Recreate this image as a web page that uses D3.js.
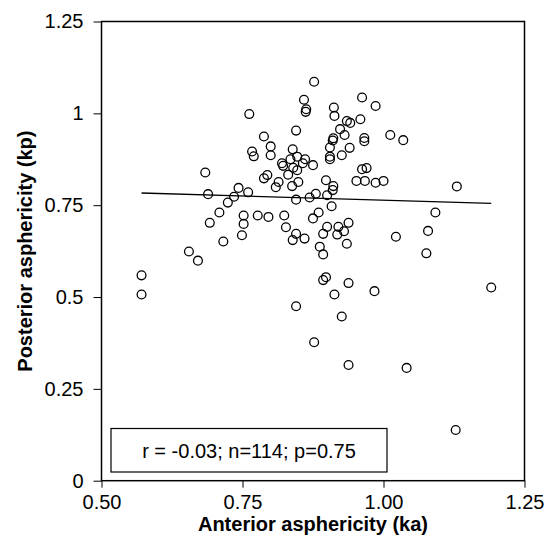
<!DOCTYPE html>
<html>
<head>
<meta charset="utf-8">
<script src="https://cdn.jsdelivr.net/npm/d3@7"></script>
<style>
  body { margin: 0; background: #fff; }
  text { font-family: "Liberation Sans", Arial, sans-serif; }
</style>
</head>
<body>
<div id="chart"></div>
<script>
// anterior (ka) vs posterior (kp) asphericity
const anterior = [
  0.571, 0.571, 0.655, 0.671, 0.684, 0.689, 0.692, 0.709, 0.716, 0.724,
  0.735, 0.743, 0.749, 0.752, 0.752, 0.760, 0.762, 0.767, 0.770, 0.777,
  0.877, 0.859, 0.863, 0.862, 0.912, 0.913, 0.962, 0.986, 0.959, 0.935,
  0.941, 0.923, 0.931, 0.845, 0.788, 0.911, 0.910, 0.966, 0.966, 1.012,
  1.035, 0.800, 0.800, 0.839, 0.905, 0.940, 0.926, 0.905, 0.905, 0.835,
  0.847, 0.861, 0.857, 0.820, 0.822, 0.840, 0.875, 0.847, 0.831, 0.794,
  0.788, 0.962, 0.970, 0.814, 0.809, 0.838, 0.849, 0.898, 0.911, 0.910,
  0.952, 0.967, 0.986, 1.000, 0.845, 0.869, 0.880, 0.900, 0.908, 0.885,
  0.875, 0.796, 0.824, 0.827, 0.845, 0.839, 0.860, 0.893, 0.900, 0.920,
  0.930, 0.918, 0.938, 0.935, 0.887, 0.893, 1.022, 0.898, 0.893, 0.938,
  0.913, 0.984, 0.845, 0.926, 0.877, 0.938, 1.041, 1.128, 1.130, 1.092,
  1.079, 1.076, 1.191
];
const posterior = [
  0.559, 0.507, 0.624, 0.599, 0.839, 0.780, 0.702, 0.730, 0.651, 0.757,
  0.773, 0.797, 0.668, 0.722, 0.699, 0.785, 0.998, 0.896, 0.883, 0.722,
  1.086, 1.037, 1.011, 1.004, 1.016, 0.993, 1.043, 1.020, 0.984, 0.979,
  0.974, 0.957, 0.941, 0.953, 0.937, 0.932, 0.926, 0.933, 0.924, 0.941,
  0.927, 0.910, 0.886, 0.902, 0.907, 0.906, 0.886, 0.882, 0.875, 0.875,
  0.882, 0.875, 0.864, 0.864, 0.857, 0.852, 0.859, 0.845, 0.833, 0.832,
  0.823, 0.848, 0.851, 0.813, 0.799, 0.802, 0.813, 0.818, 0.802, 0.791,
  0.816, 0.816, 0.811, 0.816, 0.765, 0.771, 0.781, 0.777, 0.747, 0.730,
  0.714, 0.718, 0.722, 0.690, 0.672, 0.655, 0.659, 0.672, 0.691, 0.691,
  0.679, 0.670, 0.702, 0.645, 0.637, 0.616, 0.664, 0.554, 0.546, 0.538,
  0.507, 0.516, 0.475, 0.447, 0.377, 0.315, 0.307, 0.138, 0.801, 0.730,
  0.680, 0.619, 0.526
];
// fitted regression line ends
const fitX = [0.571, 1.191];
const fitY = [0.783, 0.755];

const xTicks = [0.5, 0.75, 1.0, 1.25];
const yTicks = [0, 0.25, 0.5, 0.75, 1, 1.25];
const xTitle = "Anterior asphericity (ka)";
const yTitle = "Posterior asphericity (kp)";
const statsText = "r = -0.03; n=114; p=0.75";

const W = 544, H = 548;
const margin = { top: 21.5, right: 19.5, bottom: 67.3, left: 101.5 };
const width = W - margin.left - margin.right;
const height = H - margin.top - margin.bottom;

const svg = d3.select("#chart")
  .append("svg")
  .attr("width", W)
  .attr("height", H);

const g = svg.append("g")
  .attr("transform", `translate(${margin.left},${margin.top})`);

const x = d3.scaleLinear().domain([0.5, 1.25]).range([0, width]);
const y = d3.scaleLinear().domain([0, 1.25]).range([height, 0]);

// axes
const xAxis = d3.axisBottom(x)
  .tickValues(xTicks)
  .tickFormat(d3.format(".2f"))
  .tickSize(7)
  .tickPadding(7);
const yAxis = d3.axisLeft(y)
  .tickValues(yTicks)
  .tickFormat(d => String(d))
  .tickSize(8)
  .tickPadding(10);

const gx = g.append("g")
  .attr("transform", `translate(0,${height})`)
  .call(xAxis);
const gy = g.append("g").call(yAxis);

[gx, gy].forEach(a => {
  a.select(".domain").remove();
  a.selectAll(".tick line").attr("stroke", "#000").attr("stroke-width", 1);
  a.selectAll(".tick text")
    .attr("fill", "#000")
    .style("font-size", "20px");
});

// frame
g.append("rect")
  .attr("x", 0)
  .attr("y", 0)
  .attr("width", width)
  .attr("height", height)
  .attr("fill", "none")
  .attr("stroke", "#000")
  .attr("stroke-width", 1.5);

// regression line
g.append("line")
  .attr("x1", x(fitX[0]))
  .attr("y1", y(fitY[0]))
  .attr("x2", x(fitX[1]))
  .attr("y2", y(fitY[1]))
  .attr("stroke", "#000")
  .attr("stroke-width", 1.4);

// points
const points = anterior.map((a, i) => ({ x: a, y: posterior[i] }));
g.append("g")
  .selectAll("circle")
  .data(points)
  .enter()
  .append("circle")
  .attr("cx", d => x(d.x))
  .attr("cy", d => y(d.y))
  .attr("r", 4.4)
  .attr("fill", "none")
  .attr("stroke", "#000")
  .attr("stroke-width", 1.3);

// stats box
g.append("rect")
  .attr("x", 9.5)
  .attr("y", 407)
  .attr("width", 276)
  .attr("height", 43.5)
  .attr("fill", "#fff")
  .attr("stroke", "#000")
  .attr("stroke-width", 1.2);
g.append("text")
  .attr("x", 147.5)
  .attr("y", 436.5)
  .attr("text-anchor", "middle")
  .style("font-size", "20px")
  .text(statsText);

// titles
svg.append("text")
  .attr("x", margin.left + width / 2)
  .attr("y", 531)
  .attr("text-anchor", "middle")
  .style("font-size", "20px")
  .style("font-weight", "bold")
  .text(xTitle);

svg.append("text")
  .attr("transform", `translate(32,${margin.top + height / 2}) rotate(-90)`)
  .attr("text-anchor", "middle")
  .style("font-size", "20px")
  .style("font-weight", "bold")
  .text(yTitle);
</script>
</body>
</html>
